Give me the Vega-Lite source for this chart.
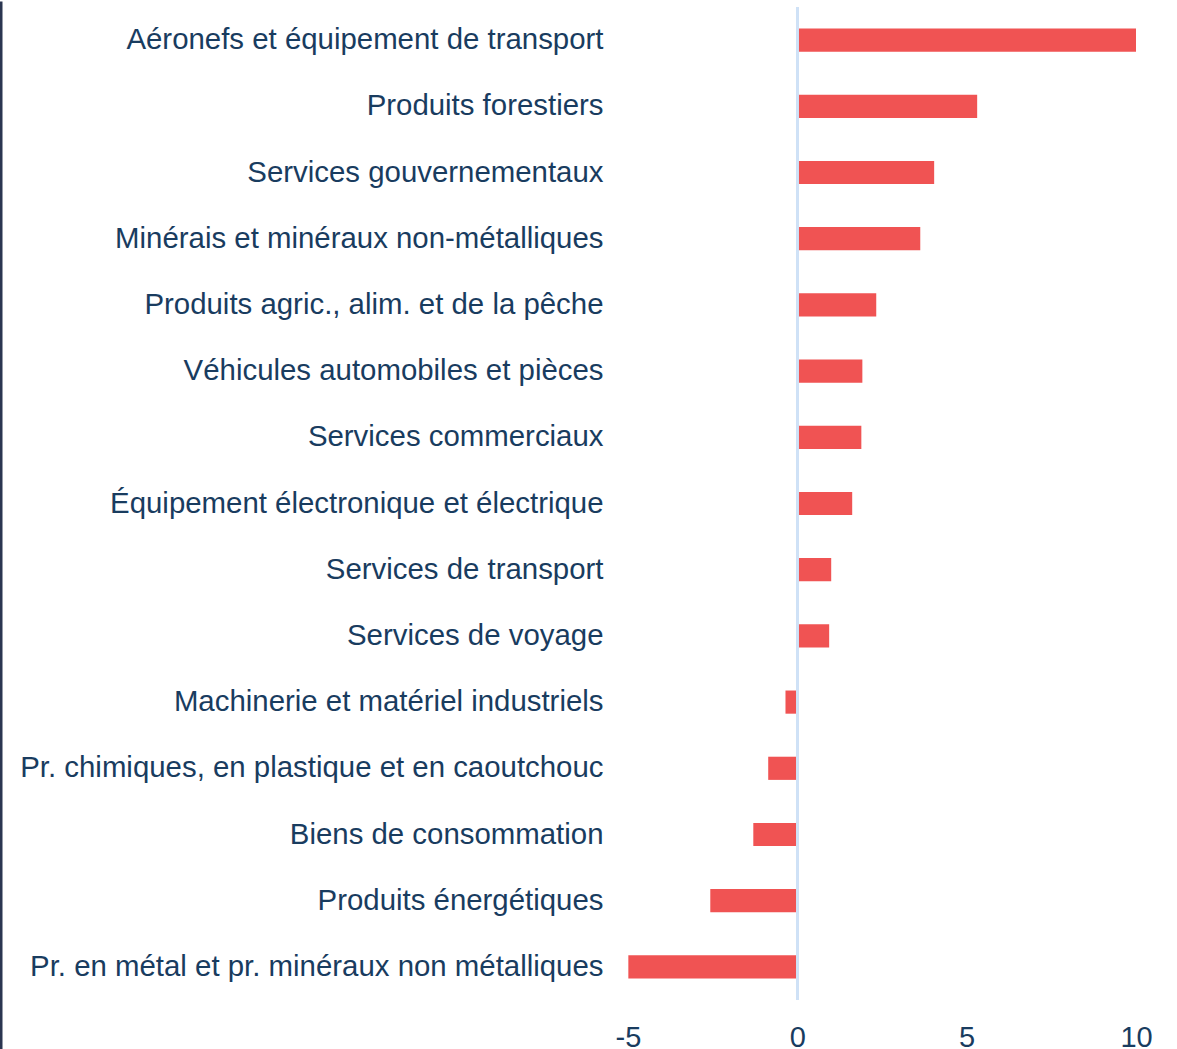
{
  "$schema": "https://vega.github.io/schema/vega-lite/v6.json",
  "width": 508,
  "height": 993,
  "padding": {"top": 6, "left": 0, "right": 0, "bottom": 0},
  "background": "white",
  "config": {
    "view": {"stroke": null},
    "font": "Liberation Sans",
    "axis": {"labelFont": "Liberation Sans", "labelColor": "#193c5f", "grid": false, "ticks": false, "title": null}
  },
  "data": {
    "values": [
      {"cat": "Aéronefs et équipement de transport", "v": 10.0},
      {"cat": "Produits forestiers", "v": 5.31},
      {"cat": "Services gouvernementaux", "v": 4.04},
      {"cat": "Minérais et minéraux non-métalliques", "v": 3.63},
      {"cat": "Produits agric., alim. et de la pêche", "v": 2.33},
      {"cat": "Véhicules automobiles et pièces", "v": 1.92},
      {"cat": "Services commerciaux", "v": 1.89},
      {"cat": "Équipement électronique et électrique", "v": 1.62},
      {"cat": "Services de transport", "v": 1.0},
      {"cat": "Services de voyage", "v": 0.94},
      {"cat": "Machinerie et matériel industriels", "v": -0.35},
      {"cat": "Pr. chimiques, en plastique et en caoutchouc", "v": -0.86},
      {"cat": "Biens de consommation", "v": -1.3},
      {"cat": "Produits énergétiques", "v": -2.57},
      {"cat": "Pr. en métal et pr. minéraux non métalliques", "v": -4.99}
    ]
  },
  "layer": [
    {
      "mark": {"type": "bar", "color": "#f05353"},
      "encoding": {
        "y": {
          "field": "cat", "type": "nominal", "sort": null,
          "scale": {"paddingInner": 0.65, "paddingOuter": 0.325},
          "axis": {"domain": false, "labelFontSize": 29.4, "labelPadding": 25, "labelLimit": 800}
        },
        "x": {
          "field": "v", "type": "quantitative",
          "scale": {"domain": [-5, 10], "nice": false},
          "axis": {"values": [-5, 0, 5, 10], "labelExpr": "datum.value + ''", "domain": false, "labelFontSize": 29, "labelPadding": 23, "labelFlush": false}
        }
      }
    },
    {
      "mark": {"type": "rule", "color": "#cfe2f7", "strokeWidth": 2},
      "encoding": {"x": {"datum": 0}}
    },
    {
      "mark": {"type": "text", "text": ""},
      "encoding": {
        "y": {
          "field": "cat", "type": "nominal", "sort": null,
          "scale": {"range": [-6, 1043]},
          "axis": {"orient": "left", "labels": false, "ticks": false, "domain": true, "domainColor": "#2b3651", "domainWidth": 3, "offset": 627.5}
        }
      }
    }
  ],
  "resolve": {"scale": {"y": "independent"}, "axis": {"y": "independent"}}
}
